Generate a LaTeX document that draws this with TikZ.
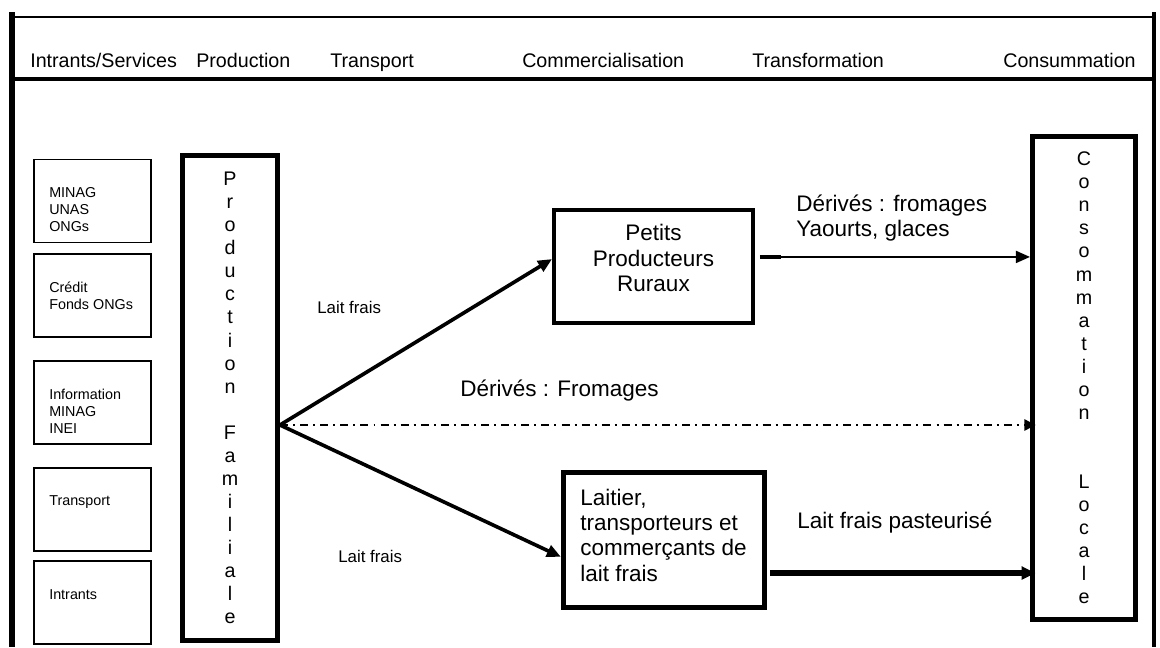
\documentclass[tikz,border=0pt]{standalone}
\usepackage{fontspec}
\setmainfont{Liberation Sans}
\usetikzlibrary{arrows.meta}

\begin{document}
\begin{tikzpicture}[x=0.025cm, y=-0.025cm,
        headtext/.style={anchor=base west, inner sep=0pt, font=\fontsize{14}{16}\selectfont},
        smallbox/.style={draw, line width=1.2pt, minimum width=83.4pt, minimum height=59pt},
        smalltext/.style={anchor=west, inner sep=0pt, align=left, font=\fontsize{10.2}{12.1}\selectfont},
        tallbox/.style={draw, line width=3.5pt, align=center, inner sep=0pt, font=\fontsize{14}{16.4}\selectfont},
        bigtext/.style={inner sep=0pt, font=\fontsize{16}{18}\selectfont},
        flowlabel/.style={inner sep=0pt, font=\fontsize{12}{14}\selectfont},
        flow/.style={line width=2.6pt, -{Triangle[length=10pt,width=8.5pt]}},
        dashdot/.style={line width=1.4pt, dash pattern=on 5.7pt off 3.6pt on 1.4pt off 3.6pt}]
            \useasboundingbox (0,0) rectangle (1160,647);
            \draw [line width=4.3pt] (12,12) -- (12,647);
            \draw [line width=3.5pt] (1154,12) -- (1154,647);
            \draw [line width=1.4pt] (12,17) -- (1154,17);
            \draw [line width=2.8pt] (12,79) -- (1154,79);
            \node [headtext] (hintrants) at (30,67) {Intrants/Services};
            \node [headtext] (hprod) at (196,67) {Production};
            \node [headtext] (htrans) at (330,67) {Transport};
            \node [headtext] (hcomm) at (522,67) {Commercialisation};
            \node [headtext] (htransf) at (752,67) {Transformation};
            \node [headtext] (hconso) at (1003,67) {Consummation};
            \node [smallbox] (minag) at (92.5,201) {};
            \node [smalltext] (minagtxt) at (49,210) {MINAG\\UNAS\\ONGs};
            \node [smallbox] (credit) at (92.5,295.5) {};
            \node [smalltext] (credittxt) at (49,296) {Crédit\\Fonds ONGs};
            \node [smallbox] (info) at (92.5,402.5) {};
            \node [smalltext] (infotxt) at (49,411) {Information\\MINAG\\INEI};
            \node [smallbox] (transp) at (92.5,509.5) {};
            \node [smalltext] (transptxt) at (49,502) {Transport};
            \node [smallbox] (intrants) at (92.5,602.5) {};
            \node [smalltext] (intrantstxt) at (49,595) {Intrants};
            \node [tallbox, minimum width=67.6pt, minimum height=345pt] (prod) at (230,398)
                {P\\r\\o\\d\\u\\c\\t\\i\\o\\n\\[16.4pt]F\\a\\m\\i\\l\\i\\a\\l\\e};
            \node [tallbox, minimum width=73.3pt, minimum height=343.6pt] (conso) at (1084,378)
                {C\\o\\n\\s\\o\\m\\m\\a\\t\\i\\o\\n\\[32.8pt]L\\o\\c\\a\\l\\e};
            \node [draw, line width=2.8pt, minimum width=141.5pt, minimum height=80.4pt] (petits) at (653.5,266.5) {};
            \node [bigtext, align=center] (petitstxt) at (653.5,258) {Petits\\Producteurs\\Ruraux};
            \node [draw, line width=3.3pt, minimum width=143.3pt, minimum height=96.3pt] (laitier) at (664,540) {};
            \node [bigtext, align=left, anchor=west] (laitiertxt) at (580,535)
                {Laitier,\\transporteurs et\\commerçants de\\lait frais};
            \coordinate (fork) at ([yshift=-19.2pt]prod.east);
            \coordinate (ptop) at ([yshift=6.8pt]petits.east);
            \coordinate (lbot) at ([yshift=-23.5pt]laitier.east);
            \draw [flow] (fork) -- ([yshift=5.3pt]petits.west);
            \draw [flow] (fork) -- ([yshift=-12pt]laitier.west);
            \draw [dashdot, shorten >=-4pt, -{Triangle[length=8pt,width=8pt]}] (fork) -- (fork -| conso.west);
            \draw [line width=2.8pt, shorten <=3.5pt] (ptop) -- ++(26,0);
            \draw [line width=1.4pt, shorten <=3.5pt, -{Triangle[length=10pt,width=8.5pt]}] (ptop) -- (ptop -| conso.west);
            \draw [line width=4pt, shorten <=2pt, shorten >=-4pt, -{Triangle[length=10pt,width=9pt]}] (lbot) -- (lbot -| conso.west);
            \node [flowlabel, anchor=west] (laitup) at (317,307) {Lait frais};
            \node [flowlabel, anchor=west] (laitdown) at (338,556) {Lait frais};
            \node [bigtext, anchor=west] (derivesmid) at (460,391) {Dérivés : Fromages};
            \node [bigtext, anchor=west, align=left] (derivestop) at (796,218) {Dérivés : fromages\\Yaourts, glaces};
            \node [bigtext, anchor=west] (pasteur) at (797,523) {Lait frais pasteurisé};
        \end{tikzpicture}
\end{document}
